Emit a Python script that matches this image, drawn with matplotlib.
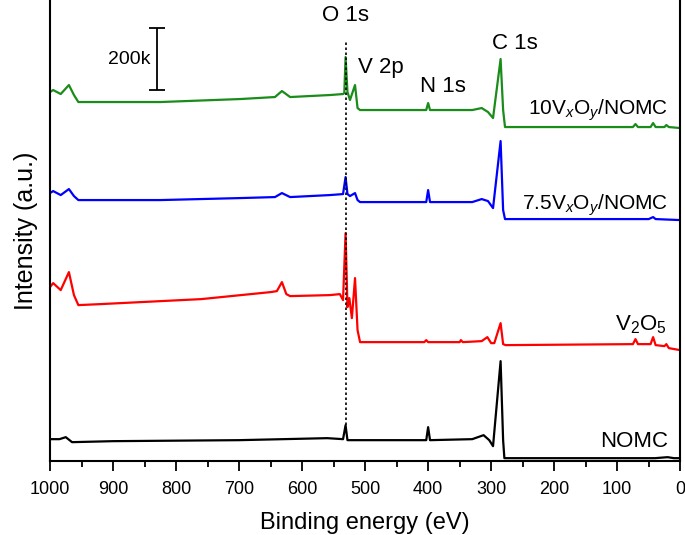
import matplotlib
matplotlib.use('Agg')
import matplotlib.pyplot as plt

plt.rcParams['font.family'] = ['Liberation Sans', 'DejaVu Sans']
plt.rcParams['mathtext.fontset'] = 'custom'
plt.rcParams['mathtext.rm'] = 'Liberation Sans'
plt.rcParams['mathtext.it'] = 'Liberation Sans:italic'

# XPS survey spectra, stacked (binding energy in eV, intensity in a.u.)
e_green = [1000, 995, 983, 970, 962, 955, 825, 698, 643, 632, 619, 556, 535, 533, 531, 528,
           524, 516, 512, 508, 403, 400, 397, 330, 315, 305, 297, 285, 281, 278, 75, 71, 67,
           47, 43, 39, 25, 22, 18, 0]
i_green = [369, 371, 367, 376, 366, 359, 359, 362, 364, 370, 364, 366, 367, 368, 404, 369,
           361, 376, 353, 351, 351, 358, 351, 351, 353, 349, 343, 402, 351, 334, 334, 337, 334,
           334, 338, 334, 334, 336, 334, 333]

e_blue = [1000, 995, 983, 970, 962, 955, 825, 698, 643, 632, 619, 556, 535, 531, 528, 524,
          516, 512, 508, 403, 400, 397, 330, 315, 305, 297, 285, 281, 278, 50, 43, 39, 0]
i_blue = [268, 270, 266, 272, 265, 261, 261, 263, 264, 268, 264, 266, 267, 284, 267, 265,
          268, 261, 259, 259, 271, 259, 259, 262, 260, 253, 320, 251, 242, 242, 244, 242, 241]

e_red = [1000, 995, 983, 970, 962, 955, 920, 760, 650, 640, 632, 625, 619, 556, 540, 535,
         531, 528, 525, 521, 516, 512, 508, 406, 403, 400, 350, 348, 345, 315, 306, 300, 295,
         285, 281, 277, 75, 71, 67, 47, 43, 39, 25, 22, 18, 0]
i_red = [174, 178, 171, 189, 166, 156, 157, 162, 169, 170, 179, 167, 165, 166, 167, 161,
         228, 154, 163, 143, 183, 131, 119, 119, 121, 119, 119, 121, 119, 120, 124, 118, 118,
         138, 117, 116, 117, 122, 117, 117, 124, 116, 115, 117, 113, 111]

e_black = [1000, 985, 975, 965, 900, 700, 560, 535, 531, 528, 403, 400, 397, 330, 312, 303,
           297, 285, 281, 279, 40, 20, 10, 0]
i_black = [22, 22, 24, 19, 20, 21, 23, 22, 36, 21, 21, 34, 21, 22, 26, 21,
           15, 100, 21, 3, 3, 4, 3, 3]

o1s_energy = 531
scale_bar = 62   # length of 200k counts in a.u.

fig = plt.figure(figsize=(6.85, 5.35), dpi=100)
ax = fig.add_axes([0.073, 0.138, 0.920, 0.862])

ax.plot(e_green, i_green, color='#1a8c1a', lw=1.6)
ax.plot(e_blue, i_blue, color='#0000ff', lw=1.6)
ax.plot(e_red, i_red, color='#ff0000', lw=1.6)
ax.plot(e_black, i_black, color='black', lw=1.6)

# O 1s guide line
ax.plot([o1s_energy, o1s_energy], [36, 419], color='black', lw=1.2, ls=(0, (1.5, 1.5)))

# scale bar
ax.errorbar([830], [402], yerr=[scale_bar / 2], color='black', lw=1.3, capsize=6, capthick=1.3)
ax.text(840, 402, '200k', ha='right', va='center', fontsize=14)

ax.text(531, 446, 'O 1s', ha='center', va='center', fontsize=16)
ax.text(511, 394, 'V 2p', ha='left', va='center', fontsize=16)
ax.text(377, 375, 'N 1s', ha='center', va='center', fontsize=16)
ax.text(262, 418, 'C 1s', ha='center', va='center', fontsize=16)
ax.text(19, 351, r'10V$_x$O$_y$/NOMC', ha='right', va='center', fontsize=15)
ax.text(19, 256, r'7.5V$_x$O$_y$/NOMC', ha='right', va='center', fontsize=15)
ax.text(21, 136, r'V$_2$O$_5$', ha='right', va='center', fontsize=16)
ax.text(19, 20, 'NOMC', ha='right', va='center', fontsize=16)

ax.set_xlim(1000, 0)
ax.set_ylim(0, 461)
ax.set_xticks(range(0, 1001, 100))
ax.set_xticks(range(50, 1000, 100), minor=True)
ax.set_yticks([])
ax.tick_params(axis='x', which='major', direction='out', length=7, width=1.3, labelsize=13, pad=7)
ax.tick_params(axis='x', which='minor', direction='out', length=4, width=1.3)
ax.spines['top'].set_visible(False)
for s in ['left', 'right', 'bottom']:
    ax.spines[s].set_linewidth(1.5)
ax.set_xlabel('Binding energy (eV)', fontsize=17, labelpad=10)
ax.set_ylabel('Intensity (a.u.)', fontsize=18, labelpad=9)

fig.savefig('out.png', dpi=100)
